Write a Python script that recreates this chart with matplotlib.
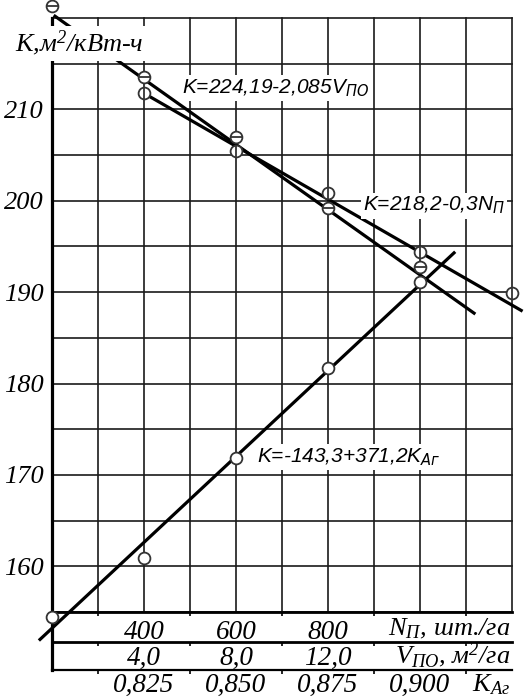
import numpy as np
import matplotlib
matplotlib.use("Agg")
import matplotlib.pyplot as plt

plt.rcParams['font.family'] = ['Liberation Serif', 'DejaVu Serif']
plt.rcParams['font.style'] = 'italic'
plt.rcParams['mathtext.fontset'] = 'custom'
plt.rcParams['mathtext.it'] = 'Liberation Serif:italic'
plt.rcParams['mathtext.rm'] = 'Liberation Serif:italic'
plt.rcParams['mathtext.default'] = 'it'

# data
# K vs V_PO (circle with horizontal bar)
v_po = [0, 4, 8, 12, 16]
k_v = [221.3, 213.5, 207.0, 199.2, 192.7]
# K vs N_P (circle with vertical bar)
n_p = [400, 600, 800, 1000, 1200]
k_n = [211.8, 205.5, 200.8, 194.4, 189.9]
# K vs K_Ag (open circles)
k_ag = [0.800, 0.825, 0.850, 0.875, 0.900]
k_k = [154.5, 160.9, 171.8, 181.7, 191.1]

# regression lines drawn on the chart (start / end points)
fit_v_x = [0.13, 18.35]
fit_v_y = [220.2, 187.7]
fit_n_x = [409, 1220]
fit_n_y = [211.5, 188.0]
fit_k_x = [0.79675, 0.90925]
fit_k_y = [152.0, 194.3]

n_ticks = [400, 600, 800]
v_ticks = [4, 8, 12]
v_labels = ['4,0', '8,0', '12,0']
kag_ticks = [0.825, 0.850, 0.875, 0.900]
kag_labels = ['0,825', '0,850', '0,875', '0,900']
y_ticks = [160, 170, 180, 190, 200, 210]


def n_to_v(n):
    return (np.asarray(n, dtype=float) - 200) / 50


def v_to_n(v):
    return np.asarray(v, dtype=float) * 50 + 200


def n_to_k(n):
    return 0.8 + (np.asarray(n, dtype=float) - 200) / 8000


def k_to_n(k):
    return (np.asarray(k, dtype=float) - 0.8) * 8000 + 200


fig = plt.figure(figsize=(5.24, 6.98), dpi=100)
ax = fig.add_axes([52 / 524, 1 - 612 / 698, 460 / 524, 594 / 698])
ax.set_xlim(200, 1200)
ax.set_ylim(155, 220)

grid_col = '#1a1a1a'
for gx in np.arange(200, 1201, 100):
    ax.axvline(gx, color=grid_col, lw=1.2, zorder=1, clip_on=False)
for gy in np.arange(155, 221, 5):
    ax.axhline(gy, color=grid_col, lw=1.2, zorder=1, clip_on=False)

for s in ['top', 'right']:
    ax.spines[s].set_visible(False)
ax.spines['bottom'].set_linewidth(2.0)
ax.spines['left'].set_visible(False)
# left axis runs down through the scale rows
ax.plot([0, 0], [-0.0976, 1.0], transform=ax.transAxes, color='black',
        lw=2.3, clip_on=False, zorder=3)

# fitted lines
ax.plot(v_to_n(fit_v_x), fit_v_y, color='black', lw=2.3, clip_on=False, zorder=3)
ax.plot(fit_n_x, fit_n_y, color='black', lw=2.3, clip_on=False, zorder=3)
ax.plot(k_to_n(fit_k_x), fit_k_y, color='black', lw=2.3, clip_on=False, zorder=3)

mk = dict(ms=8.5, mec='#333333', mew=1.3, clip_on=False, ls='none')
ax.plot(v_to_n(v_po), k_v, 'o', mfc='white', zorder=4, **mk)
ax.plot(v_to_n(v_po), k_v, '_', zorder=5, **mk)
ax.plot(n_p, k_n, 'o', mfc='white', zorder=4, **mk)
ax.plot(n_p, k_n, '|', zorder=5, **mk)
ax.plot(k_to_n(k_ag), k_k, 'o', mfc='white', zorder=4, **mk)

# y axis
ax.set_yticks(y_ticks)
ax.tick_params(axis='y', length=0, pad=6, labelsize=19)

# N row
ax.set_xticks(n_ticks)
ax.set_xticks([300, 500, 700, 900, 1100], minor=True)
ax.tick_params(axis='x', which='major', length=0, pad=5.5, labelsize=19.5)
ax.tick_params(axis='x', which='minor', length=3, width=1.2, direction='out')

# V row
sv = ax.secondary_xaxis(-0.0505, functions=(n_to_v, v_to_n))
sv.spines['bottom'].set_linewidth(2.0)
sv.set_xticks(v_ticks, labels=v_labels)
sv.set_xticks([2, 6, 10, 14, 18], minor=True)
sv.tick_params(which='major', length=0, pad=2.5, labelsize=19.5)
sv.tick_params(which='minor', length=3, width=1.2, direction='out')

# K_Ag row
sk = ax.secondary_xaxis(-0.0976, functions=(n_to_k, k_to_n))
sk.spines['bottom'].set_linewidth(1.6)
sk.set_xticks(kag_ticks, labels=kag_labels)
sk.set_xticks([0.8125, 0.8375, 0.8625, 0.8875, 0.9125], minor=True)
sk.tick_params(which='major', length=0, pad=2, labelsize=19.5)
sk.tick_params(which='minor', length=3, width=1.2, direction='out')

# axis names
ax.text(0.9957, -0.0387, 'N$_{П}$, шт./га', transform=ax.transAxes,
        ha='right', va='baseline', fontsize=19)
ax.text(0.9957, -0.0859, 'V$_{ПО}$, м$^{2}$/га', transform=ax.transAxes,
        ha='right', va='baseline', fontsize=19)
ax.text(0.9957, -0.1330, 'K$_{Aг}$', transform=ax.transAxes,
        ha='right', va='baseline', fontsize=19)
ax.text(120, 216.3, 'K,м$^{2}$/кВт-ч', ha='left', va='baseline', fontsize=19,
        zorder=6, bbox=dict(facecolor='white', edgecolor='none', pad=2))

# equations
eq = dict(family=['Liberation Sans', 'DejaVu Sans'], style='italic', fontsize=15,
          ha='left', va='baseline', zorder=6, math_fontfamily='dejavusans',
          bbox=dict(facecolor='white', edgecolor='none', pad=1.5))
ax.text(482, 211.8, 'K=224,19-2,085V$_{ПО}$', **eq)
ax.text(876, 198.9, 'K=218,2-0,3N$_{П}$', **eq)
ax.text(646, 171.4, 'K=-143,3+371,2K$_{Aг}$', **eq)

fig.savefig('out.png', dpi=100)
